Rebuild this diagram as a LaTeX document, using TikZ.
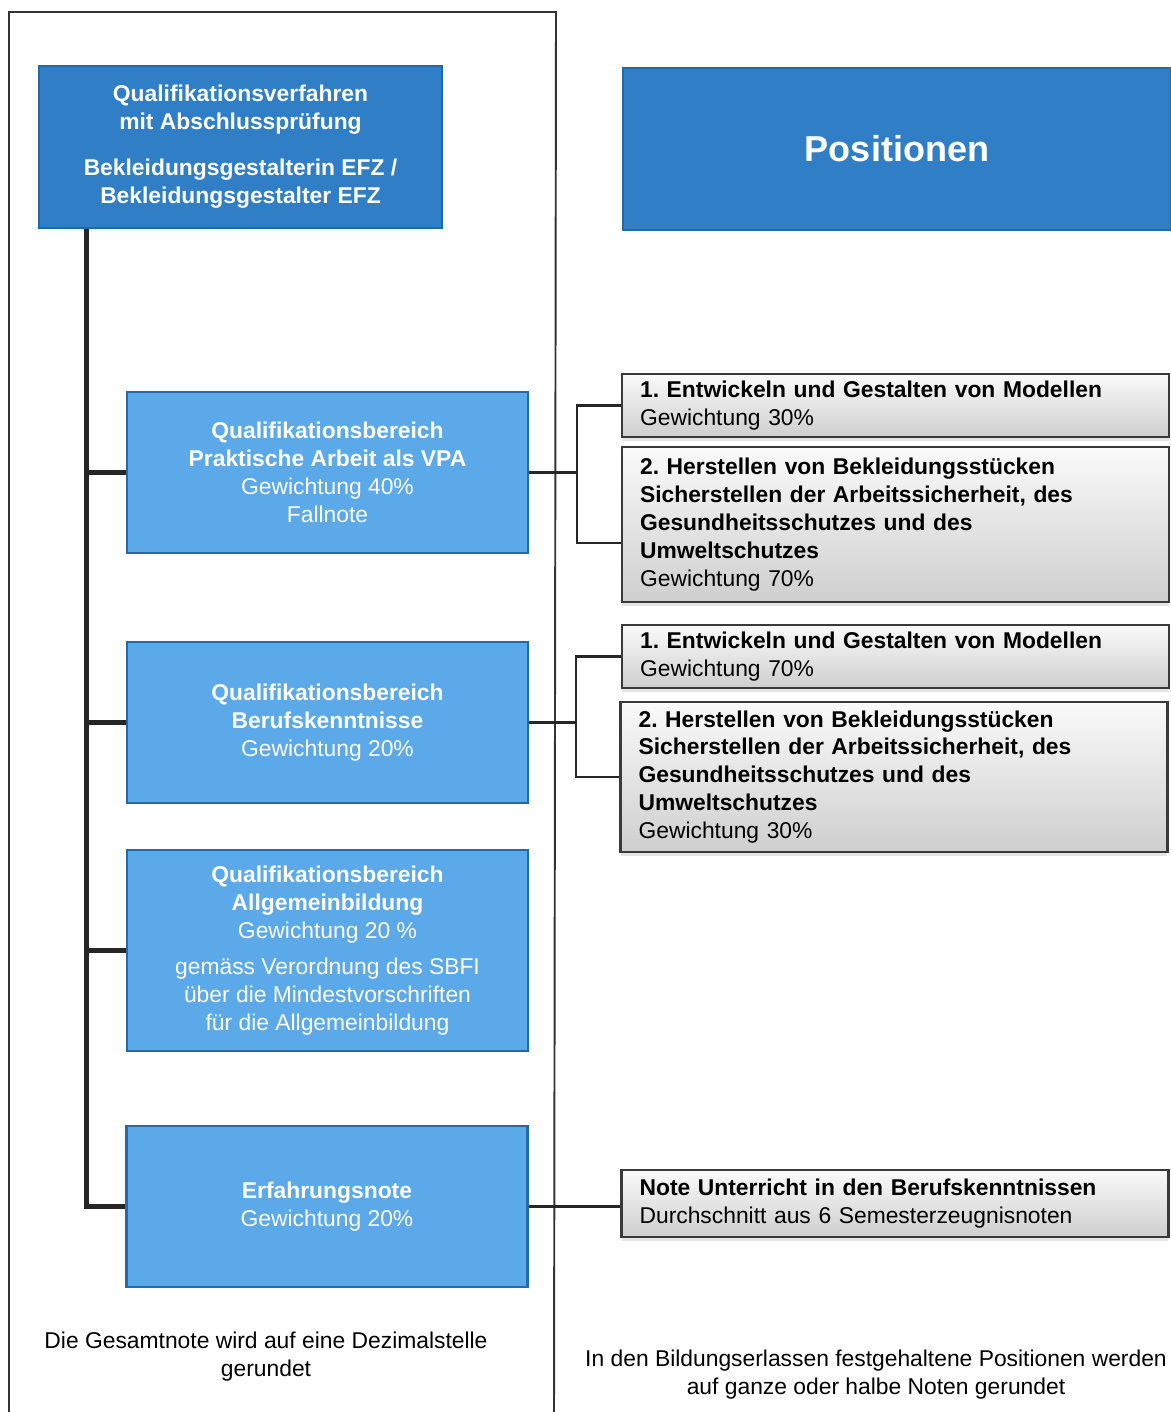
\documentclass[tikz,border=0pt]{standalone}
\usepackage{fontspec}
\setmainfont{Liberation Sans}
\usetikzlibrary{shadows}
\frenchspacing

\definecolor{headblue}{HTML}{2F7EC6}
\definecolor{headline}{HTML}{2468A8}
\definecolor{areablue}{HTML}{5BA9E8}
\definecolor{arealine}{HTML}{2669AA}
\definecolor{posline}{HTML}{3A3A3A}

\tikzset{
  head/.style={draw=headline, fill=headblue, line width=1pt, text=white,
    align=center, inner sep=0pt, minimum height=3.24cm},
  area/.style={draw=arealine, fill=areablue, line width=1.6pt, text=white,
    align=center, inner sep=0pt, minimum width=8.02cm, minimum height=3.22cm},
  posbox/.style={draw=posline, top color=gray!4, bottom color=gray!38, line width=1.4pt,
    align=left, text width=10.22cm, inner xsep=0.36cm, inner ysep=0pt,
    drop shadow={opacity=0.2, shadow xshift=0pt, shadow yshift=-2pt}},
  trunk/.style={line width=2.8pt, draw=black!85},
  link/.style={line width=1.2pt, draw=black!85},
  frame/.style={line width=1.1pt, draw=black!80}
}

\begin{document}
\begin{tikzpicture}[x=0.02cm, y=-0.02cm, font=\fontsize{13}{15.9}\selectfont]
  \useasboundingbox [fill=white] (0, 0) rectangle (1170, 1412);

  % frame round the left column
  \draw [frame] (9, 1412) -- (9, 12) -- (556, 12) -- (554, 1412);

  % heads
  \node [head, minimum width=8.06cm] (title) at (240.5, 147)
    {\textbf{Qualifikationsverfahren}\\ \textbf{mit Abschlussprüfung}\\[0.36cm]
     \textbf{Bekleidungsgestalterin EFZ /}\\ \textbf{Bekleidungsgestalter EFZ}};
  \node [head, minimum width=10.96cm, font=\fontsize{20.5}{24}\selectfont\bfseries]
    (positionen) at (897, 149) {Positionen};

  % Qualifikationsbereiche
  \node [area] (vpa) at (327.5, 472.5)
    {\textbf{Qualifikationsbereich}\\ \textbf{Praktische Arbeit als VPA}\\
     Gewichtung 40\%\\ Fallnote};
  \node [area] (bk) at (327.5, 722.5)
    {\textbf{Qualifikationsbereich}\\ \textbf{Berufskenntnisse}\\ Gewichtung 20\%};
  \node [area, minimum height=4.02cm] (abu) at (327.5, 950.5)
    {\textbf{Qualifikationsbereich}\\ \textbf{Allgemeinbildung}\\ Gewichtung 20 \%\\[0.16cm]
     gemäss Verordnung des SBFI\\ über die Mindestvorschriften\\ für die Allgemeinbildung};
  \node [area] (erf) at (327, 1206.5)
    {\textbf{Erfahrungsnote}\\ Gewichtung 20\%};

  % Positionen
  \node [posbox, minimum height=1.26cm] (vpaone) at (895.5, 405.5)
    {\textbf{1. Entwickeln und Gestalten von Modellen}\\ Gewichtung 30\%};
  \node [posbox, minimum height=3.1cm] (vpatwo) at (895.5, 524.5)
    {\textbf{2. Herstellen von Bekleidungsstücken}\\
     \textbf{Sicherstellen der Arbeitssicherheit, des}\\
     \textbf{Gesundheitsschutzes und des}\\ \textbf{Umweltschutzes}\\ Gewichtung 70\%};
  \node [posbox, minimum height=1.26cm] (bkone) at (895.5, 656.5)
    {\textbf{1. Entwickeln und Gestalten von Modellen}\\ Gewichtung 70\%};
  \node [posbox, minimum height=3cm] (bktwo) at (894, 777)
    {\textbf{2. Herstellen von Bekleidungsstücken}\\
     \textbf{Sicherstellen der Arbeitssicherheit, des}\\
     \textbf{Gesundheitsschutzes und des}\\ \textbf{Umweltschutzes}\\ Gewichtung 30\%};
  \node [posbox, minimum height=1.34cm] (note) at (895, 1203.5)
    {\textbf{Note Unterricht in den Berufskenntnissen}\\ Durchschnitt aus 6 Semesterzeugnisnoten};

  % trunk and branches
  \draw [trunk] ([xshift=0.96cm]title.south west) |- (erf.west);
  \foreach \n in {vpa, bk, abu}
    \draw [trunk] (\n.west) -- ++(-42, 0);

  % links to the Positionen
  \draw [link] (vpa.east) -- ++(48, 0) coordinate (vpaj);
  \draw [link] (vpaone.west) -| (vpaj) |- ([yshift=-0.37cm]vpatwo.west);
  \draw [link] (bk.east) -- ++(47, 0) coordinate (bkj);
  \draw [link] (bkone.west) -| (bkj) |- (bktwo.west);
  \draw [link] (erf.east) -- (erf.east -| note.west);

  % notes at the foot
  \node [align=center] (gesamt) at (266, 1357)
    {Die Gesamtnote wird auf eine Dezimalstelle\\ gerundet};
  \node [align=center] (runden) at (876, 1375)
    {In den Bildungserlassen festgehaltene Positionen werden\\ auf ganze oder halbe Noten gerundet};
\end{tikzpicture}
\end{document}
